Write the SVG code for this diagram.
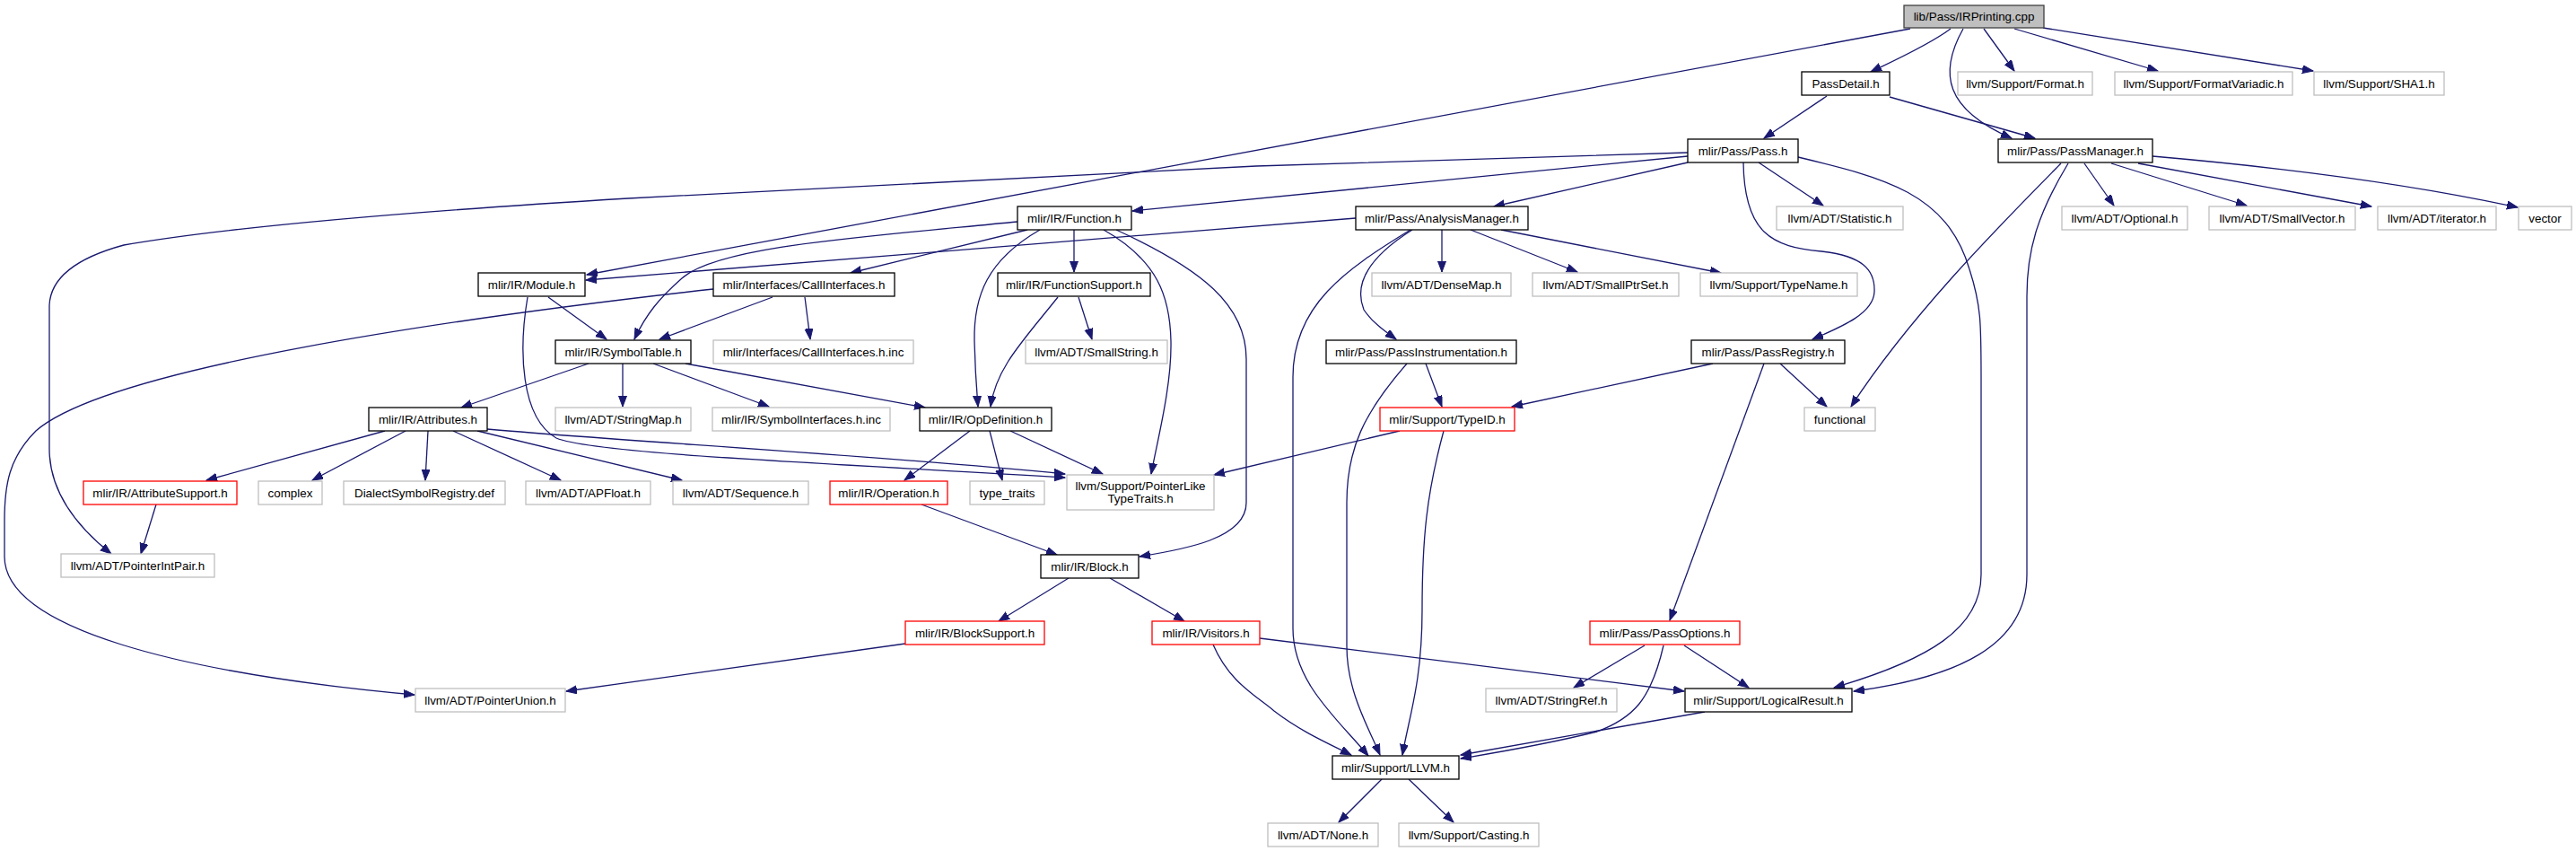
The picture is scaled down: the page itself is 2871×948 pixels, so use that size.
<svg xmlns="http://www.w3.org/2000/svg" width="2871" height="948" viewBox="0 0 2871 948">
<style>
.n rect{fill:#fff;stroke:#000;stroke-width:1.3}
.n.g rect{stroke:#bfbfbf}
.n.r rect{stroke:#ff0000}
.n.root rect{fill:#bfbfbf;stroke:#404040}
.n text{font-family:"Liberation Sans",Arial,sans-serif;font-size:13.4px;text-anchor:middle;fill:#000}
#edges path{fill:none;stroke:#191970;stroke-width:1.3;marker-end:url(#a)}
</style>
<defs>
<marker id="a" markerUnits="userSpaceOnUse" markerWidth="13" markerHeight="10" refX="12" refY="4.5" orient="auto">
<path d="M0,0 L12,4.5 L0,9 Z" fill="#191970" stroke="#191970" stroke-width="1"/>
</marker>
</defs>
<rect width="2871" height="948" fill="#fff"/>
<g id="edges">
<path d="M2129,32 L654,306"/>
<path d="M2174,32 C2150,50 2110,68 2085,80"/>
<path d="M2188,32 C2160,82 2168,122 2242,154"/>
<path d="M2211,32 L2245,79"/>
<path d="M2245,32 L2405,79"/>
<path d="M2277,31 L2578,79"/>
<path d="M2036,107 L1966,154"/>
<path d="M2106,108 L2268,154"/>
<path d="M1881,181 L1665,230"/>
<path d="M1960,181 L2032,229"/>
<path d="M1943,181 C1944,260 1975,275 2030,280 C2075,285 2090,300 2089,325 C2088,350 2050,365 2020,378"/>
<path d="M2004,175 C2100,198 2170,215 2195,300 C2208,340 2208,360 2208,420 L2208,640 C2208,700 2150,735 2044,766"/>
<path d="M2305,182 C2270,240 2259,280 2259,330 L2259,640 C2259,720 2180,755 2066,770"/>
<path d="M1881,170 L1400,185 L700,221 Q300,245 138,273 Q57,295 55,340 L55,500 C55,550 90,590 124,617"/>
<path d="M1881,174 L1262,235"/>
<path d="M2323,182 L2356,229"/>
<path d="M2353,182 L2504,229"/>
<path d="M2383,182 L2643,230"/>
<path d="M2399,174 C2560,188 2700,208 2806,231"/>
<path d="M2297,182 C2230,250 2130,350 2063,453"/>
<path d="M1134,247 C950,265 800,275 760,310 C735,332 720,350 707,378"/>
<path d="M1145,256 L948,304"/>
<path d="M1197,256 L1197,303"/>
<path d="M1159,256 C1100,290 1085,330 1086,380 C1087,420 1089,440 1090,453"/>
<path d="M1230,256 C1290,290 1304,330 1305,380 C1306,430 1290,490 1283,528"/>
<path d="M1244,256 C1340,300 1389,340 1389,400 L1389,560 C1389,600 1320,612 1270,620"/>
<path d="M611,331 L676,378"/>
<path d="M588,331 C578,390 580,465 620,488 C660,505 900,515 1187,532"/>
<path d="M861,331 L735,378"/>
<path d="M897,331 L903,378"/>
<path d="M795,322 C500,355 120,410 40,480 C10,510 5,540 5,580 L5,620 C5,700 200,750 462,774"/>
<path d="M656,405 L514,454"/>
<path d="M694,405 L694,453"/>
<path d="M728,405 L857,453"/>
<path d="M764,405 L1031,454"/>
<path d="M1179,331 C1140,380 1110,410 1104,453"/>
<path d="M1202,331 L1217,378"/>
<path d="M1511,243 L653,312"/>
<path d="M1607,256 L1607,303"/>
<path d="M1639,256 L1758,303"/>
<path d="M1673,256 L1918,304"/>
<path d="M1572,256 C1500,300 1441,340 1441,420 L1441,700 C1441,760 1490,800 1525,842"/>
<path d="M1574,256 C1520,290 1510,320 1520,345 C1530,360 1545,370 1556,378"/>
<path d="M1589,405 L1607,453"/>
<path d="M1568,405 C1520,460 1501,500 1501,560 L1501,720 C1501,770 1525,810 1538,841"/>
<path d="M1909,405 L1685,453"/>
<path d="M1984,405 L2036,453"/>
<path d="M1966,405 L1861,691"/>
<path d="M1560,480 L1353,529"/>
<path d="M1609,480 C1590,550 1585,600 1585,680 C1585,760 1570,800 1563,841"/>
<path d="M1081,480 L1008,535"/>
<path d="M1103,480 L1117,535"/>
<path d="M1126,480 L1229,528"/>
<path d="M1027,562 L1178,618"/>
<path d="M429,480 L230,535"/>
<path d="M452,480 L348,535"/>
<path d="M477,480 L474,535"/>
<path d="M505,480 L625,535"/>
<path d="M532,480 L760,535"/>
<path d="M543,478 C700,492 950,505 1187,528"/>
<path d="M174,562 L157,617"/>
<path d="M1191,644 L1113,692"/>
<path d="M1237,644 L1320,692"/>
<path d="M1009,717 L631,770"/>
<path d="M1404,711 L1877,770"/>
<path d="M1352,718 C1370,760 1400,775 1420,792 C1450,815 1480,828 1506,841"/>
<path d="M1833,719 L1754,766"/>
<path d="M1877,719 L1949,766"/>
<path d="M1854,719 C1840,780 1820,800 1780,815 C1720,830 1670,838 1628,845"/>
<path d="M1900,793 L1628,841"/>
<path d="M1540,868 L1492,916"/>
<path d="M1570,868 L1620,916"/>
</g>
<g id="n1" class="n root"><rect x="2122" y="6" width="156" height="25"/><text x="2200" y="23">lib/Pass/IRPrinting.cpp</text></g>
<g id="n2" class="n"><rect x="2008" y="80" width="98" height="26"/><text x="2057" y="97.5">PassDetail.h</text></g>
<g id="n3" class="n g"><rect x="2182" y="80" width="150" height="26"/><text x="2257" y="97.5">llvm/Support/Format.h</text></g>
<g id="n4" class="n g"><rect x="2357" y="80" width="198" height="26"/><text x="2456" y="97.5">llvm/Support/FormatVariadic.h</text></g>
<g id="n5" class="n g"><rect x="2579" y="80" width="145" height="26"/><text x="2651.5" y="97.5">llvm/Support/SHA1.h</text></g>
<g id="n6" class="n"><rect x="1881" y="155" width="123" height="26"/><text x="1942.5" y="172.5">mlir/Pass/Pass.h</text></g>
<g id="n7" class="n"><rect x="2227" y="155" width="172" height="26"/><text x="2313" y="172.5">mlir/Pass/PassManager.h</text></g>
<g id="n8" class="n"><rect x="1134" y="230" width="127" height="26"/><text x="1197.5" y="247.5">mlir/IR/Function.h</text></g>
<g id="n9" class="n"><rect x="1511" y="230" width="192" height="26"/><text x="1607" y="247.5">mlir/Pass/AnalysisManager.h</text></g>
<g id="n10" class="n g"><rect x="1980" y="230" width="141" height="26"/><text x="2050.5" y="247.5">llvm/ADT/Statistic.h</text></g>
<g id="n11" class="n g"><rect x="2298" y="230" width="140" height="26"/><text x="2368" y="247.5">llvm/ADT/Optional.h</text></g>
<g id="n12" class="n g"><rect x="2462" y="230" width="163" height="26"/><text x="2543.5" y="247.5">llvm/ADT/SmallVector.h</text></g>
<g id="n13" class="n g"><rect x="2650" y="230" width="132" height="26"/><text x="2716" y="247.5">llvm/ADT/iterator.h</text></g>
<g id="n14" class="n g"><rect x="2807" y="230" width="59" height="26"/><text x="2836.5" y="247.5">vector</text></g>
<g id="n15" class="n"><rect x="533" y="304" width="119" height="26"/><text x="592.5" y="321.5">mlir/IR/Module.h</text></g>
<g id="n16" class="n"><rect x="795" y="304" width="202" height="26"/><text x="896" y="321.5">mlir/Interfaces/CallInterfaces.h</text></g>
<g id="n17" class="n"><rect x="1112" y="304" width="170" height="26"/><text x="1197" y="321.5">mlir/IR/FunctionSupport.h</text></g>
<g id="n18" class="n g"><rect x="1529" y="304" width="155" height="26"/><text x="1606.5" y="321.5">llvm/ADT/DenseMap.h</text></g>
<g id="n19" class="n g"><rect x="1708" y="304" width="163" height="26"/><text x="1789.5" y="321.5">llvm/ADT/SmallPtrSet.h</text></g>
<g id="n20" class="n g"><rect x="1895" y="304" width="175" height="26"/><text x="1982.5" y="321.5">llvm/Support/TypeName.h</text></g>
<g id="n21" class="n"><rect x="619" y="379" width="151" height="26"/><text x="694.5" y="396.5">mlir/IR/SymbolTable.h</text></g>
<g id="n22" class="n g"><rect x="795" y="379" width="223" height="26"/><text x="906.5" y="396.5">mlir/Interfaces/CallInterfaces.h.inc</text></g>
<g id="n23" class="n g"><rect x="1143" y="379" width="158" height="26"/><text x="1222" y="396.5">llvm/ADT/SmallString.h</text></g>
<g id="n24" class="n"><rect x="1478" y="379" width="212" height="26"/><text x="1584" y="396.5">mlir/Pass/PassInstrumentation.h</text></g>
<g id="n25" class="n"><rect x="1885" y="379" width="171" height="26"/><text x="1970.5" y="396.5">mlir/Pass/PassRegistry.h</text></g>
<g id="n26" class="n"><rect x="411" y="454" width="132" height="26"/><text x="477" y="471.5">mlir/IR/Attributes.h</text></g>
<g id="n27" class="n g"><rect x="619" y="454" width="151" height="26"/><text x="694.5" y="471.5">llvm/ADT/StringMap.h</text></g>
<g id="n28" class="n g"><rect x="794" y="454" width="198" height="26"/><text x="893" y="471.5">mlir/IR/SymbolInterfaces.h.inc</text></g>
<g id="n29" class="n"><rect x="1025" y="454" width="147" height="26"/><text x="1098.5" y="471.5">mlir/IR/OpDefinition.h</text></g>
<g id="n30" class="n r"><rect x="1538" y="454" width="150" height="26"/><text x="1613" y="471.5">mlir/Support/TypeID.h</text></g>
<g id="n31" class="n g"><rect x="2011" y="454" width="79" height="26"/><text x="2050.5" y="471.5">functional</text></g>
<g id="n32" class="n r"><rect x="93" y="536" width="171" height="26"/><text x="178.5" y="553.5">mlir/IR/AttributeSupport.h</text></g>
<g id="n33" class="n g"><rect x="288" y="536" width="71" height="26"/><text x="323.5" y="553.5">complex</text></g>
<g id="n34" class="n g"><rect x="383" y="536" width="180" height="26"/><text x="473" y="553.5">DialectSymbolRegistry.def</text></g>
<g id="n35" class="n g"><rect x="586" y="536" width="139" height="26"/><text x="655.5" y="553.5">llvm/ADT/APFloat.h</text></g>
<g id="n36" class="n g"><rect x="750" y="536" width="151" height="26"/><text x="825.5" y="553.5">llvm/ADT/Sequence.h</text></g>
<g id="n37" class="n r"><rect x="925" y="536" width="131" height="26"/><text x="990.5" y="553.5">mlir/IR/Operation.h</text></g>
<g id="n38" class="n g"><rect x="1081" y="536" width="83" height="26"/><text x="1122.5" y="553.5">type_traits</text></g>
<g id="n39" class="n g"><rect x="1189" y="529" width="164" height="39"/><text x="1271" y="546">llvm/Support/PointerLike</text><text x="1271" y="560">TypeTraits.h</text></g>
<g id="n40" class="n g"><rect x="68" y="617" width="171" height="26"/><text x="153.5" y="634.5">llvm/ADT/PointerIntPair.h</text></g>
<g id="n41" class="n"><rect x="1160" y="618" width="109" height="26"/><text x="1214.5" y="635.5">mlir/IR/Block.h</text></g>
<g id="n42" class="n r"><rect x="1009" y="692" width="155" height="26"/><text x="1086.5" y="709.5">mlir/IR/BlockSupport.h</text></g>
<g id="n43" class="n r"><rect x="1284" y="692" width="120" height="26"/><text x="1344" y="709.5">mlir/IR/Visitors.h</text></g>
<g id="n44" class="n r"><rect x="1772" y="692" width="167" height="26"/><text x="1855.5" y="709.5">mlir/Pass/PassOptions.h</text></g>
<g id="n45" class="n g"><rect x="463" y="767" width="167" height="26"/><text x="546.5" y="784.5">llvm/ADT/PointerUnion.h</text></g>
<g id="n46" class="n g"><rect x="1656" y="767" width="146" height="26"/><text x="1729" y="784.5">llvm/ADT/StringRef.h</text></g>
<g id="n47" class="n"><rect x="1878" y="767" width="186" height="26"/><text x="1971" y="784.5">mlir/Support/LogicalResult.h</text></g>
<g id="n48" class="n"><rect x="1485" y="842" width="141" height="26"/><text x="1555.5" y="859.5">mlir/Support/LLVM.h</text></g>
<g id="n49" class="n g"><rect x="1413" y="917" width="123" height="26"/><text x="1474.5" y="934.5">llvm/ADT/None.h</text></g>
<g id="n50" class="n g"><rect x="1559" y="917" width="156" height="26"/><text x="1637" y="934.5">llvm/Support/Casting.h</text></g>
</svg>
